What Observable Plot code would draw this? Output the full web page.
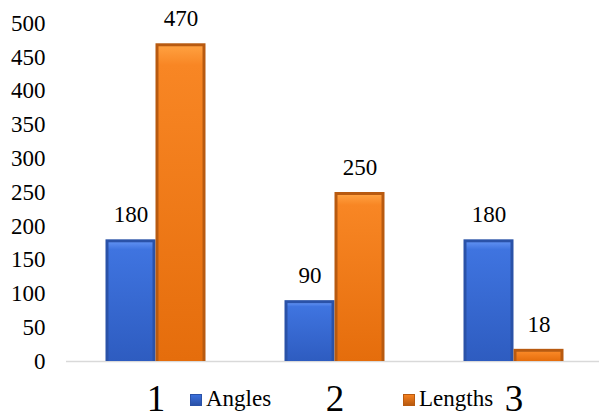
<!DOCTYPE html>
<html><head><meta charset="utf-8">
<script src="https://cdn.jsdelivr.net/npm/d3@7"></script>
<script src="https://cdn.jsdelivr.net/npm/@observablehq/plot@0.6"></script>
<style>
body{margin:0;background:#fff}
#wrap{position:relative;width:599px;height:419px;font-family:'Liberation Serif',serif;color:#000}
.lg{position:absolute;top:387px;font-size:23px;line-height:23px;white-space:nowrap;font-family:'Liberation Serif',serif}
.sw{position:absolute;width:12px;height:12px;top:7px;box-sizing:border-box}
</style>
</head><body><div id="wrap"></div>
<script>
const categories = ["1", "2", "3"];
const series = ["Angles", "Lengths"];
const angles = [180, 90, 180];
const lengths = [470, 250, 18];
const yTicks = [0, 50, 100, 150, 200, 250, 300, 350, 400, 450, 500];

const mainColor = {Angles: "#3a6fdc", Lengths: "#f5801e"};
const edgeColor = {Angles: "#2a52a8", Lengths: "#b85a10"};

const data = categories.flatMap((c, i) => [
  {cat: c, series: "Angles", value: angles[i]},
  {cat: c, series: "Lengths", value: lengths[i]}
]);

const font = "Liberation Serif, serif";

const chart = Plot.plot({
  width: 599,
  height: 419,
  marginTop: 23,
  marginBottom: 58,
  marginLeft: 65.5,
  marginRight: 0,
  style: {fontFamily: font, fontSize: "23px", background: "white", color: "black", overflow: "visible"},
  fx: {domain: categories, range: [65.5, 602.5], padding: 0, label: null},
  x: {domain: series, paddingInner: 0, paddingOuter: 0.755, axis: null},
  y: {domain: [0, 500], label: null},
  marks: [
    Plot.ruleY([0], {stroke: "#d9d9d9", strokeWidth: 1.5}),
    Plot.barY(data, {fx: "cat", x: "series", y: "value", fill: d => edgeColor[d.series]}),
    Plot.barY(data, {fx: "cat", x: "series", y: "value", fill: d => "url(#g-" + d.series + ")", insetLeft: 3, insetRight: 3, insetTop: 3}),
    Plot.text(data, {fx: "cat", x: "series", y: "value", text: d => String(d.value), dy: -25, fontSize: 23, fontFamily: font}),
    Plot.axisY({ticks: yTicks, tickSize: 0, tickPadding: 21, fontSize: 23, fontFamily: font, tickFormat: d => String(d)}),
    Plot.axisFx({anchor: "bottom", tickSize: 0, tickPadding: 23, fontSize: 37, fontFamily: font, label: null})
  ]
});
chart.setAttribute("font-family", font);

// gradient defs for bevelled bars
const ns = "http://www.w3.org/2000/svg";
const defs = document.createElementNS(ns, "defs");
const grads = {
  Angles: [["0%", "#5d8ef0"], ["6%", "#3f74e0"], ["100%", "#2e5cc0"]],
  Lengths: [["0%", "#ffa040"], ["6%", "#f88624"], ["100%", "#e56d0c"]]
};
for (const s of series) {
  const g = document.createElementNS(ns, "linearGradient");
  g.setAttribute("id", "g-" + s);
  g.setAttribute("x1", "0"); g.setAttribute("y1", "0");
  g.setAttribute("x2", "0"); g.setAttribute("y2", "1");
  for (const [o, c] of grads[s]) {
    const st = document.createElementNS(ns, "stop");
    st.setAttribute("offset", o); st.setAttribute("stop-color", c);
    g.appendChild(st);
  }
  defs.appendChild(g);
}
chart.insertBefore(defs, chart.firstChild);

const wrap = document.getElementById("wrap");
wrap.appendChild(chart);

// inline legend
const legendPos = {Angles: 190, Lengths: 403};
for (const s of series) {
  const item = document.createElement("div");
  item.className = "lg";
  item.style.left = legendPos[s] + "px";
  const sw = document.createElement("div");
  sw.className = "sw";
  sw.style.left = "0px";
  sw.style.background = "linear-gradient(" + mainColor[s] + "," + edgeColor[s] + ")";
  sw.style.border = "1px solid " + edgeColor[s];
  const t = document.createElement("span");
  t.style.marginLeft = "16px";
  t.textContent = s;
  item.appendChild(sw);
  item.appendChild(t);
  wrap.appendChild(item);
}
</script>
</body></html>
